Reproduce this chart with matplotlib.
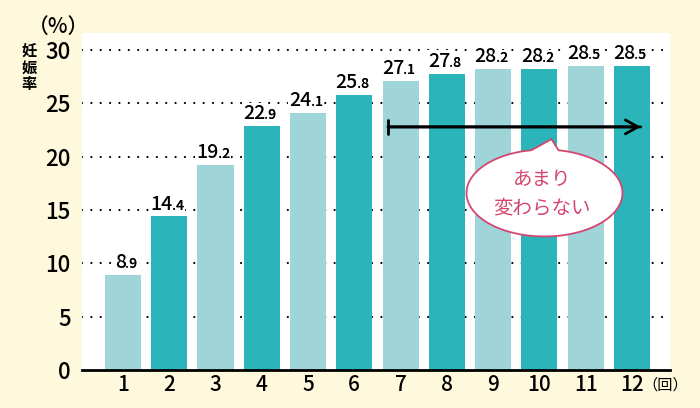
import matplotlib.pyplot as plt
import numpy as np
from matplotlib.patches import Polygon

plt.rcParams['font.family'] = ['Noto Sans CJK JP', 'DejaVu Sans']

# データ
kaisu = [1, 2, 3, 4, 5, 6, 7, 8, 9, 10, 11, 12]
ninshin_ritsu = [8.9, 14.4, 19.2, 22.9, 24.1, 25.8, 27.1, 27.8, 28.2, 28.2, 28.5, 28.5]
y_ticks = [0, 5, 10, 15, 20, 25, 30]

color_light = '#9fd4d8'
color_dark = '#2bb5bb'
bg = '#fef9dc'
pink = '#d2476f'

fig = plt.figure(figsize=(7, 4.08), dpi=100, facecolor=bg)
ax = fig.add_axes([0.117, 0.093, 0.84, 0.826])
ax.set_facecolor('white')

# 点線のグリッド
for yv in y_ticks[1:]:
    ax.axhline(yv, color='black', lw=1.6, linestyle=(0, (0.01, 4.2)),
               dash_capstyle='round', zorder=1)

colores = [color_light if i % 2 == 0 else color_dark for i in range(len(kaisu))]
ax.bar(kaisu, ninshin_ritsu, width=0.78, color=colores, zorder=2)

# 値ラベル (小数部は小さく)
caja = dict(facecolor='white', edgecolor='none', pad=1.0)
for x, v in zip(kaisu, ninshin_ritsu):
    entero, dec = f'{v:.1f}'.split('.')
    ax.annotate(entero, (x, v), xytext=(2.5, 5), textcoords='offset points',
                ha='right', va='baseline', fontsize=14, fontweight='medium',
                bbox=caja, zorder=4)
    # fondo blanco del decimal (debajo) y texto encima
    ax.annotate('.' + dec, (x, v), xytext=(1.8, 5), textcoords='offset points',
                ha='left', va='baseline', fontsize=10, fontweight='medium',
                bbox=caja, zorder=3)
    ax.annotate('.' + dec, (x, v), xytext=(1.8, 5), textcoords='offset points',
                ha='left', va='baseline', fontsize=10, fontweight='medium', zorder=6)

ax.set_xlim(0.114, 12.82)
ax.set_ylim(0, 31.6)
ax.set_xticks(kaisu)
ax.set_yticks(y_ticks)
ax.tick_params(axis='both', length=0)
ax.tick_params(axis='y', pad=8, labelsize=16)
ax.tick_params(axis='x', pad=3, labelsize=15)
for lab in ax.get_xticklabels() + ax.get_yticklabels():
    lab.set_fontweight('medium')

for s in ['top', 'right', 'left']:
    ax.spines[s].set_visible(False)
ax.spines['bottom'].set_linewidth(2)

# 矢印
ax.annotate('', xy=(12.25, 22.8), xytext=(6.67, 22.8),
            arrowprops=dict(arrowstyle='|-|,widthA=0.5,widthB=0', lw=2, color='black'), zorder=6)
ax.annotate('', xy=(12.25, 22.8), xytext=(6.67, 22.8),
            arrowprops=dict(arrowstyle='->,head_length=0.9,head_width=0.5', lw=2, color='black'), zorder=6)

# 吹き出し
cx, cy, w, h = 10.11, 16.6, 3.37, 8.15
t = np.linspace(0, 2 * np.pi, 200)
ex = cx + w / 2 * np.cos(t)
ey = cy + h / 2 * np.sin(t)
ang = np.degrees(t)
keep = (ang < 80) | (ang > 98)
pts = list(zip(ex[keep], ey[keep]))
idx = np.sum(ang[keep] < 80)
pts.insert(idx, (10.26, 21.65))
ax.add_patch(Polygon(pts, closed=True, facecolor='white', edgecolor=pink, lw=1.3, zorder=7))
ax.text(cx - 0.05, cy + 1.3, 'あまり', color=pink, fontsize=14, ha='center', va='center', zorder=8)
ax.text(cx - 0.05, cy - 1.4, '変わらない', color=pink, fontsize=14, ha='center', va='center', zorder=8)

# 軸の注記
fig.text(0.083, 0.935, '（%）', fontsize=15, ha='center', va='center', fontweight='medium')
fig.text(0.041, 0.835, '妊\n娠\n率', fontsize=11, ha='center', va='center',
         linespacing=1.05, fontweight='bold')
fig.text(0.95, 0.057, '（回）', fontsize=11, ha='center', va='center')

fig.savefig('out.png', dpi=100, facecolor=bg)
